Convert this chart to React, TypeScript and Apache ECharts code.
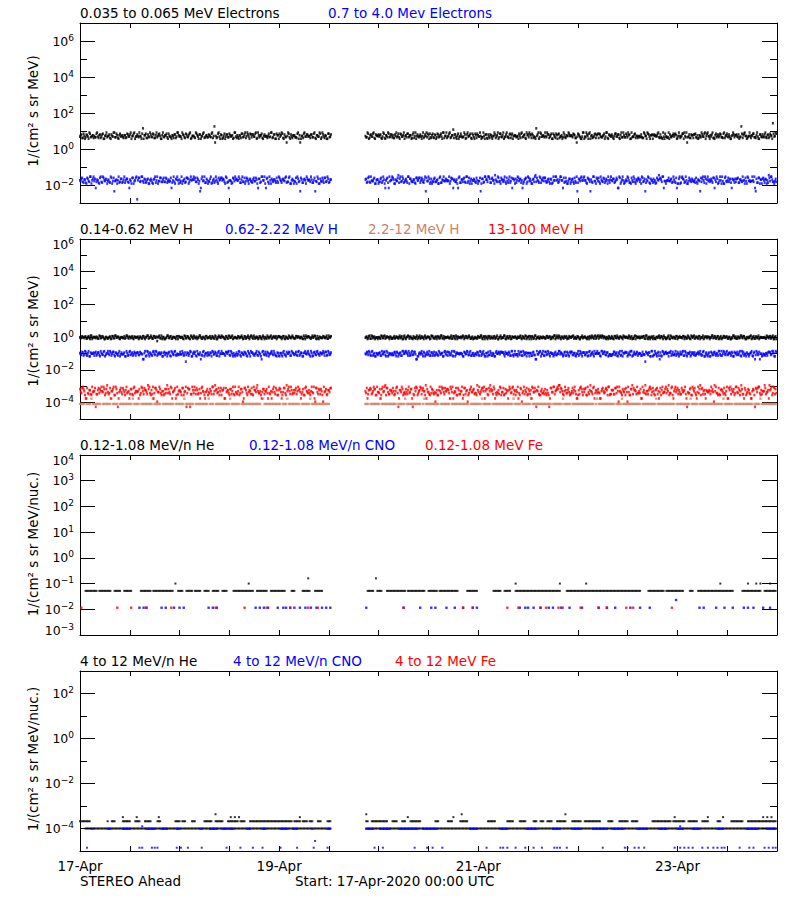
import React, { useEffect, useRef } from 'react';
import * as echarts from 'echarts';

// ---------------- style constants ----------------
const FONT = 'DejaVu Sans';
const BLACK = '#000000';
const BLUE = '#0000ff';
const RED = '#ff0000';
const BROWN = '#cc8468';

// ---------------- time axis ----------------
const SPAN_HOURS = 168; // 17-Apr-2020 00:00 .. 24-Apr-2020 00:00
const X_TICK_STEP_H = 12;
const X_LABEL_STEP_H = 48;
const X_TICK_LABELS = ['17-Apr', '19-Apr', '21-Apr', '23-Apr'];
const GAP_START_H = 60.67; // data gap on 19-Apr
const GAP_END_H = 68.8;
const SLOT_H = 1 / 3; // 20-minute cadence for the sparse heavy-ion lists

const SPACECRAFT = 'STEREO Ahead';
const START_TEXT = 'Start: 17-Apr-2020 00:00 UTC';

// ---------------- panel 1 : electrons ----------------
// each char is one reading; digits index the level table, letters are outliers, '.' = no reading
// two interleaved reading streams (A and B) per series
const E_LO_LEVELS = [3.2, 3.7, 4.1, 4.5, 4.9, 5.3, 5.8, 6.4, 7.1, 8.2];
const E_LO_EXTRA: Record<string, number> = { a: 2.3, b: 14, c: 18, d: 12, e: 27 };
const E_LO_PRE_A =
  '4725361846 5392748163 5274936185 3628471594 7351b68249 4826375193 6384157296 5173846925 3961748253 7482c53916 2847365194 6158372948 3749265817 5284937161 4927358146 6381a52947 5273916483 725184';
const E_LO_POST_A =
  '5382749165 4719263847 6253817495 3846295173 7194536828 2637481959 4826d73514 5391746283 8264539171 4735926184 6149372856 3582947163 7264159384 5937261848 1846372595 6372a85149 4958163727 2735849164 5184726393 8361947254 3729518467 6548372914 2973648155 4815937262 7362594818 5149263757 3826471593 6473c28514 9258364173 4736285e49';
const E_LO_PRE_B =
  '6281749352 3846271595 7159382646 2637495814 5948162737 3729581646 8153627494 4962738155 2847159363 6395a28471 5173846292 3628495717 7481936254 4539271868 6814a93725 3296158474 5738264919 461837';
const E_LO_POST_B =
  '3916482757 6248159373 2795384616 8361729545 4527981363 7183649252 5936271848 3472958161 6849135727 2615749383 9374286155 4158362979 6823b71946 3597481626 7241936585 5862473191 3719524868 8436192757 2584719363 6971348525 4328597161 7659231484 3145876292 5893a42767 8216374959 4672185383 2958341676 7314869525 5683291747 3927461858';

const E_HI_LEVELS = [0.0105, 0.012, 0.0135, 0.015, 0.0165, 0.018, 0.02, 0.022, 0.025, 0.029];
const E_HI_EXTRA: Record<string, number> = { a: 0.0068, b: 0.0045, c: 0.0016, d: 0.035 };
const E_HI_PRE_A =
  '5736284917 4a62839571 6284b51937 3957261848 c839472615 5172948363 8264a53791 2947381656 6381b74925 4715293868 7392a51846 5926384717 3648172959 a815736249 6274938155 4893b62717 5362849173 583926';
const E_HI_POST_A =
  '6283947156 3729158a46 8164d73925 4917362858 2836b49174 7351826946 5947a63182 6382941757 3814b72963 9275163848 5638294a71 2947516838 7163d84925 4826371959 6395a28147 3714926858 5286b39417 8163745929 4738a91652 6952837148 3184b69275 7526d83941 5847362a19 2963518474 6815b39276 4372869155 9184537a62 3726495818 5493a72861 8265d49317';
const E_HI_PRE_B =
  '4826173959 7351928464 3918465272 6273a48159 5849263717 2695148383 7438291656 4152873969 8364a95271 3927461585 6183542797 5729318464 2846a73951 7391564828 4658239171 3174826595 6925b37148 284736';
const E_HI_POST_B =
  '7392548161 3846a72959 6158294737 2974361858 5629847313 8361925474 4187536a92 6739284155 2548173969 7285d49316 3914628757 5862a37194 4179352868 8437162595 2695834171 6382b74959 5173629484 3948271565 7256a83914 4821593676 6937248152 3185769a44 5462938171 8729146353 2364875919 6548a37291 4193862757 7826351494 3459b28167 5712896343';

// ---------------- panel 2 : protons ----------------
const H1_LEVELS = [0.72, 0.77, 0.82, 0.87, 0.92, 0.97, 1.02, 1.08, 1.15, 1.24];
const H1_EXTRA: Record<string, number> = { a: 0.58 };
const H1_PRE_A =
  '5463728194 6352847163 4728395616 3849265374 5173846925 6284a73951 3947265188 5629384172 7415926383 4836271959 6283947154 3759182646 8264537191 4937265848 5182739466 2847361595 7364928153 846295';
const H1_POST_A =
  '4739286151 6283947572 3846295173 5927384616 2847365198 4715293864 7362849155 3918476272 6485937161 5273849162 4926381757 3749162858 8163947253 5284716394 6937485126 4826371595 7361594828 2948736153 5183627497 6492837165 3758291646 8264937151 4917362858 5386294177 2748159363 6159473828 3847261595 7264938153 4938275164 5627384918';
const H1_PRE_B =
  '3857264916 5729384162 6183947255 4295738166 7362815949 2847593161 5938264717 4618372959 3749526184 6283915747 5172849363 8365274919 4927183656 2659384177 6481527393 3874629158 5296813744 739258';
const H1_POST_B =
  '6182937455 3948275162 5274638191 7863152949 4519376283 2687493155 5392816747 6748392514 3265917848 8437261595 4918372656 2573849161 6829153747 5384726919 3716258485 7942851636 4168372959 5793614828 2849375164 6375129847 4582936171 3167485952 7294638155 5816372949 3628451777 6493827151 4857261393 2739584166 8162739454 4395827161';

const H2_LEVELS = [0.06, 0.068, 0.075, 0.082, 0.09, 0.098, 0.106, 0.115, 0.126, 0.14];
const H2_EXTRA: Record<string, number> = { a: 0.045, b: 0.032 };
const H2_PRE_A =
  '6374829155 2847163936 5928374617 4716395282 7385a61947 3859264718 6172948353 8463b72915 5294738162 3718462959 6485927134 2937485161 7526384a93 4815936272 6374158296 3829461757 5162839474 928374';
const H2_POST_A =
  '5837294163 6294817353 3748162958 7263948a15 4916385272 8352746193 2739184656 6184937252 5372849161 3926175848 7485362919 4158293766 6273a94815 2839475163 5946172838 8362594717 3718264959 6295837142 4837152966 7153928484 5284b63719 3946271858 6172839454 4829365177 7364928153 5183746292 2947365818 6839152474 4726a93851 5362874919';
const H2_PRE_B =
  '4829361757 6273948159 3758162944 5192837466 7364a92815 2938475163 6581739244 4927365818 8153a29467 3694827155 5278394617 4816372959 7359261848 2647593161 6193857274 5382716949 3917485266 682937';
const H2_POST_B =
  '4793826155 7258391646 3816472959 5927384a17 6481539274 2739461858 8362917545 4175839262 5839274168 3624195787 7156829343 4938275161 6283a47959 2847165383 5974382616 8361529477 3729481565 6195837242 4852793168 7389154626 5243867191 3618a29475 6794352818 4927168353 2586439171 7163825949 5839472616 3472985151 6918374a52 4257839618';

const H3_LEVELS: number[] = [];
const H3_EXTRA: Record<string, number> = { '1': 8.3e-5, '2': 1.75e-4 };
const H3_PRE =
  '1111.11121 11111.1111 1121111.11 1111111211 11.1111111 1211111.11 111111.111 1112111111 .111111111 2111.11111 1111121111 11.1111111 1111111.21 1111111111 1.11121111 1111.11111 1211111111 11111.';
const H3_POST =
  '111.111111 1211111111 111.111112 1111111111 1.12111111 1111.11111 1121111111 111111.111 1111121111 11.1111111 1111111121 1111.11111 1211111111 111111.111 1111211111 .111111111 1111111.12 1111111111 11.1111211 1111111111 1.11111111 1121111111 111111.111 1111111211 111.111111 1111111111 12111111.1 1111111111 111.111121 1111111111';

const H4_LEVELS = [2.5e-4, 2.9e-4, 3.3e-4, 3.8e-4, 4.4e-4, 5.0e-4, 5.8e-4, 6.7e-4, 7.8e-4, 9.2e-4];
const H4_EXTRA: Record<string, number> = { a: 1.8e-4, b: 1.15e-4, c: 5.5e-5, d: 1.15e-3 };
const H4_PRE_A =
  '7395a82614 5c2879473d 2857193a64 8463527195 4a19586273 6938b47152 3d72846a95 5184937c26 9263a85147 4729563851 6a85372914 2937b86145 8164d35a72 5392a74816 7a48159263 3856427194 6193a84725 b47268';
const H4_POST_A =
  '5826739714 3a74918265 8159c64732 4637a28915 9285d74136 2b61937485 7394a58162 5a82616947 3169485a72 8d52734691 4176a93825 6938b52417 2a84569153 5713c84926 9d47256381 3865a12947 7192d48a63 4a58376912 6283594157 8b41726593 3a96d52874 5172a86349 7d38159624 2659a43817 8143d726a5 4597b53126 6235a89741 9481d2a637 3a56c78912 5d24a69387';
const H4_PRE_B =
  '4871a36295 8263559174 3a5917c482 6194a72835 5738264d91 2a86493517 7349a58126 4815c87293 6827394a51 3592d74186 8a46175293 5174a83962 2968531475 7a35492618 4183d75926 6297a41853 3549b82671 951648';
const H4_POST_B =
  '3a68257194 7195d84263 5283a69147 2947c15836 8651a42973 4316598257 6a79341825 9185b37462 3d42689571 5769a13284 8235674961 4a17396825 6948c52173 2361a84957 7d85193642 5392a68714 8146529357 3a75481926 6289b53741 4917d86235 7a43256918 2685419473 5139a74862 8462c37195 3a97185264 6254d93817 4819a62573 9365728146 2a71849365 5846d71923';

// ---------------- panel 3 : 0.12-1.08 MeV/n heavy ions (20-min slot numbers) ----------------
const P3_HE_LOW_VALUE = 0.052;
const P3_HE_LOW_SLOTS: (number | [number, number])[] = [
  [4, 12], [14, 22], [25, 29], [32, 37], [44, 51], [53, 63], [64, 67], [71, 74], [77, 81], [83, 87],
  [90, 93], [96, 100], [103, 106], [111, 125], [128, 135], [138, 141], [142, 148], [153, 155], [161, 166],
  [170, 175], [208, 212], [215, 218], [222, 235], [237, 249], [252, 258], [260, 273], [280, 287], [299, 304],
  [307, 311], [315, 347], [352, 405], [411, 422], [424, 436], [441, 443], [447, 472], [479, 492], [495, 503],
];
const P3_HE_MID_VALUE = 0.1;
const P3_HE_MID_SLOTS = [69, 122, 315, 347, 366, 463, 483, 489, 492, 499];
const P3_HE_HIGH_VALUE = 0.16;
const P3_HE_HIGH_SLOTS = [165, 214];

const P3_CNO_LOW_VALUE = 0.0115;
const P3_CNO_LOW_SLOTS = [
  43, 46, 48, 59, 62, 68, 72, 75, 93, 96, 99, 127, 130, 133, 136, 143, 147, 149, 152, 155, 159, 163, 167, 171,
  175, 178, 181, 207, 234, 246, 254, 257, 265, 271, 277, 284, 287, 318, 322, 324, 328, 333, 339, 342, 348, 354,
  363, 375, 381, 387, 398, 405, 412, 448, 451, 460, 466, 472, 480, 483, 487, 494, 499,
];
const P3_CNO_MID_VALUE = 0.023;
const P3_CNO_MID_SLOTS = [431];

const P3_FE_LOW_VALUE = 0.0115;
const P3_FE_LOW_SLOTS = [
  1, 27, 37, 48, 66, 98, 119, 135, 152, 165, 172, 234, 277, 284, 309, 317, 333, 337, 346, 349, 362, 375, 381,
  395, 400, 428,
];

// ---------------- panel 4 : 4-12 MeV/n heavy ions ----------------
const P4_HE_BASE_VALUE = 1.0e-4;
const P4_HE_BASE_SLOTS: (number | [number, number])[] = [[4, 181], [207, 503]];
const P4_HE_UP_VALUE = 2.1e-4;
const P4_HE_UP_SLOTS: (number | [number, number])[] = [
  [0, 4], [5, 7], 20, [23, 25], [31, 34], [35, 36], [40, 43], [47, 51], [56, 58], [69, 72], [74, 76], [81, 83],
  [90, 95], [98, 103], [107, 114], [116, 119], [123, 128], [129, 135], [136, 142], [143, 153], [155, 159],
  [161, 164], [166, 168], [172, 174], [179, 181], [207, 208], [211, 222], [226, 229], [233, 235], [239, 246],
  [257, 259], [266, 269], [275, 280], [295, 300], [309, 313], [318, 322], [328, 330], [333, 335], [338, 341],
  [345, 351], [356, 362], [365, 376], [382, 385], [390, 396], [399, 403], [414, 427], [429, 437], [440, 446],
  [450, 454], [461, 463], [471, 479], [483, 503],
];
const P4_HE_UP2_VALUE = 3.2e-4;
const P4_HE_UP2_SLOTS = [31, 41, 57, 109, 112, 115, 159, 237, 270, 430, 454, 465, 494, 497, 500];
const P4_HE_UP3_VALUE = 4.3e-4;
const P4_HE_UP3_SLOTS = [98, 207, 276, 351];

const P4_CNO_BASE_VALUE = 0.97e-4;
const P4_CNO_BASE_SLOTS: (number | [number, number])[] = [
  9, [20, 22], [31, 36], [48, 54], [59, 63], [70, 72], [87, 88], [94, 99], [103, 106], [108, 111], [121, 123],
  [132, 134], [145, 150], [154, 157], 168, [179, 181], [207, 212], [217, 224], [231, 244], [248, 258],
  [282, 287], [304, 309], [323, 330], [342, 347], [356, 362], [371, 381], [385, 393], [403, 410], [419, 424],
  [432, 436], [443, 448], [461, 465], [482, 490], [497, 503],
];
const P4_CNO_UP_VALUE = 1.25e-4;
const P4_CNO_UP_SLOTS = [45, 434];
const P4_CNO_MID_VALUE = 2.8e-5;
const P4_CNO_MID_SLOTS = [170];
const P4_CNO_LOW_VALUE = 1.4e-5;
const P4_CNO_LOW_SLOTS = [
  5, 43, 45, 52, 54, 56, 70, 73, 78, 88, 106, 116, 125, 132, 145, 157, 169, 179, 213, 219, 242, 251, 255, 262,
  294, 304, 306, 309, 315, 322, 328, 334, 343, 345, 347, 352, 378, 394, 396, 401, 404, 408, 430, 434, 437, 440,
  443, 450, 454, 458, 461, 464, 466, 477, 484, 487, 495, 498, 501, 503,
];
const P4_FE_SLOTS: number[] = [];

// ---------------- texts ----------------
const P1_LEGEND = ['0.035 to 0.065 MeV Electrons', '0.7 to 4.0 Mev Electrons'];
const P2_LEGEND = ['0.14-0.62 MeV H', '0.62-2.22 MeV H', '2.2-12 MeV H', '13-100 MeV H'];
const P3_LEGEND = ['0.12-1.08 MeV/n He', '0.12-1.08 MeV/n CNO', '0.12-1.08 MeV Fe'];
const P4_LEGEND = ['4 to 12 MeV/n He', '4 to 12 MeV/n CNO', '4 to 12 MeV Fe'];
const TITLE_A = '1/(cm\u00b2 s sr MeV)';
const TITLE_B = '1/(cm\u00b2 s sr MeV/nuc.)';

// ---------------- helpers ----------------
type Pt = [number, number];

function decodeStream(out: Pt[], s: string, t0: number, t1: number, shift: number, levels: number[], extra: Record<string, number>) {
  const chars = s.replace(/\s+/g, '');
  const step = (t1 - t0) / chars.length;
  for (let i = 0; i < chars.length; i++) {
    const c = chars[i];
    if (c === '.') continue;
    const v = extra[c] !== undefined ? extra[c] : levels[Number(c)];
    if (v === undefined || isNaN(v)) continue;
    out.push([t0 + (i + shift) * step, v]);
  }
}

function decodeDense(streams: [string, string][], levels: number[], extra: Record<string, number>): Pt[] {
  const out: Pt[] = [];
  streams.forEach(([pre, post], k) => {
    const shift = k / streams.length;
    decodeStream(out, pre, 0, GAP_START_H, shift, levels, extra);
    decodeStream(out, post, GAP_END_H, SPAN_HOURS, shift, levels, extra);
  });
  return out;
}

function fromSlots(slots: (number | [number, number])[], value: number): Pt[] {
  const out: Pt[] = [];
  slots.forEach((s) => {
    if (Array.isArray(s)) {
      for (let k = s[0]; k <= s[1]; k++) out.push([k * SLOT_H, value]);
    } else out.push([s * SLOT_H, value]);
  });
  return out;
}

// layout
const GRID_LEFT = 80;
const GRID_WIDTH = 697;
const GRID_HEIGHT = 180;
const GRID_TOPS = [23, 239, 455, 671];
const TEXT_FONT_SIZE = 13.5;

const PANEL_AXES = [
  { expMin: -3, expMax: 7, major: [-2, 0, 2, 4, 6], minor: [-1, 1, 3, 5], labels: [-2, 0, 2, 4, 6] },
  { expMin: -5, expMax: 6, major: [-4, -2, 0, 2, 4], minor: [-3, -1, 1, 3, 5], labels: [-4, -2, 0, 2, 4, 6] },
  { expMin: -3, expMax: 4, major: [-2, -1, 0, 1, 2, 3], minor: [] as number[], labels: [-3, -2, -1, 0, 1, 2, 3, 4] },
  { expMin: -5, expMax: 3, major: [-4, -2, 0, 2], minor: [-3, -1, 1], labels: [-4, -2, 0, 2] },
];

function buildOption(): any {
  const grids: any[] = [];
  const xAxes: any[] = [];
  const yAxes: any[] = [];
  const rich = {
    b: { fontSize: 12.5, fontFamily: FONT, color: BLACK, lineHeight: 16 },
    e: { fontSize: 9, fontFamily: FONT, color: BLACK, lineHeight: 8, verticalAlign: 'top' },
    sp: { fontSize: 8, lineHeight: 10 },
  };
  PANEL_AXES.forEach((p, g) => {
    grids.push({ left: GRID_LEFT, top: GRID_TOPS[g], width: GRID_WIDTH, height: GRID_HEIGHT });
    const isLast = g === PANEL_AXES.length - 1;
    const xBase = {
      type: 'value',
      gridIndex: g,
      min: 0,
      max: SPAN_HOURS,
      interval: X_TICK_STEP_H,
      splitLine: { show: false },
      axisLine: { show: true, onZero: false, lineStyle: { color: BLACK, width: 1 } },
      axisTick: { show: true, inside: true, length: 5, lineStyle: { color: BLACK, width: 1 } },
    };
    xAxes.push({
      ...xBase,
      position: 'bottom',
      axisLabel: isLast
        ? {
            show: true,
            margin: 8,
            color: BLACK,
            fontFamily: FONT,
            fontSize: TEXT_FONT_SIZE,
            formatter: (v: number) =>
              Math.abs(v % X_LABEL_STEP_H) < 1e-6 && v < SPAN_HOURS ? X_TICK_LABELS[Math.round(v / X_LABEL_STEP_H)] : '',
          }
        : { show: false },
    });
    xAxes.push({ ...xBase, position: 'top', axisLabel: { show: false } });

    // data axis (log)
    yAxes.push({
      type: 'log',
      logBase: 10,
      gridIndex: g,
      min: Math.pow(10, p.expMin),
      max: Math.pow(10, p.expMax),
      show: false,
    });
    const fmt = (v: number) => {
      const n = Math.round(v);
      const ex = n < 0 ? '\u2212' + -n : String(n);
      const body = '{b|10}{e|' + ex + '}';
      if (n === p.expMax) return '{sp| }\n' + body;
      if (n === p.expMin) return body + '\n{sp| }';
      return body;
    };
    const decoBase = {
      type: 'value',
      gridIndex: g,
      min: p.expMin,
      max: p.expMax,
      splitLine: { show: false },
    };
    yAxes.push({
      ...decoBase,
      position: 'left',
      axisLine: { show: true, onZero: false, lineStyle: { color: BLACK, width: 1 } },
      axisTick: { show: true, inside: true, length: 15, customValues: p.major, lineStyle: { color: BLACK } },
      axisLabel: { show: true, margin: 6, customValues: p.labels, formatter: fmt, rich, color: BLACK },
    });
    yAxes.push({
      ...decoBase,
      position: 'left',
      axisLine: { show: false },
      axisTick: { show: p.minor.length > 0, inside: true, length: 7, customValues: p.minor, lineStyle: { color: BLACK } },
      axisLabel: { show: false },
    });
    yAxes.push({
      ...decoBase,
      position: 'right',
      axisLine: { show: true, onZero: false, lineStyle: { color: BLACK, width: 1 } },
      axisTick: { show: true, inside: true, length: 15, customValues: p.major, lineStyle: { color: BLACK } },
      axisLabel: { show: false },
    });
    yAxes.push({
      ...decoBase,
      position: 'right',
      axisLine: { show: false },
      axisTick: { show: p.minor.length > 0, inside: true, length: 7, customValues: p.minor, lineStyle: { color: BLACK } },
      axisLabel: { show: false },
    });
  });

  const mk = (g: number, name: string, data: Pt[], color: string, size: number | number[] = 2) => ({
    type: 'scatter',
    name,
    xAxisIndex: g * 2,
    yAxisIndex: g * 5,
    data,
    symbol: 'rect',
    symbolSize: size,
    itemStyle: { color },
    silent: true,
    emphasis: { disabled: true },
  });

  const DENSE = [2, 2.6];
  const DENSE_THIN = [2.4, 2.4];

  const series = [
    mk(0, P1_LEGEND[0], decodeDense([[E_LO_PRE_A, E_LO_POST_A], [E_LO_PRE_B, E_LO_POST_B]], E_LO_LEVELS, E_LO_EXTRA), BLACK, DENSE),
    mk(0, P1_LEGEND[1], decodeDense([[E_HI_PRE_A, E_HI_POST_A], [E_HI_PRE_B, E_HI_POST_B]], E_HI_LEVELS, E_HI_EXTRA), BLUE, DENSE),

    mk(1, P2_LEGEND[0], decodeDense([[H1_PRE_A, H1_POST_A], [H1_PRE_B, H1_POST_B]], H1_LEVELS, H1_EXTRA), BLACK, DENSE),
    mk(1, P2_LEGEND[1], decodeDense([[H2_PRE_A, H2_POST_A], [H2_PRE_B, H2_POST_B]], H2_LEVELS, H2_EXTRA), BLUE, DENSE),
    mk(1, P2_LEGEND[2], decodeDense([[H3_PRE, H3_POST]], H3_LEVELS, H3_EXTRA), BROWN, DENSE_THIN),
    mk(1, P2_LEGEND[3], decodeDense([[H4_PRE_A, H4_POST_A], [H4_PRE_B, H4_POST_B]], H4_LEVELS, H4_EXTRA), RED, DENSE),

    mk(2, P3_LEGEND[0], [
      ...fromSlots(P3_HE_LOW_SLOTS, P3_HE_LOW_VALUE),
      ...fromSlots(P3_HE_MID_SLOTS, P3_HE_MID_VALUE),
      ...fromSlots(P3_HE_HIGH_SLOTS, P3_HE_HIGH_VALUE),
    ], BLACK),
    mk(2, P3_LEGEND[1], [
      ...fromSlots(P3_CNO_LOW_SLOTS, P3_CNO_LOW_VALUE),
      ...fromSlots(P3_CNO_MID_SLOTS, P3_CNO_MID_VALUE),
    ], BLUE, 2.4),
    mk(2, P3_LEGEND[2], fromSlots(P3_FE_LOW_SLOTS, P3_FE_LOW_VALUE), RED, 2.4),

    mk(3, P4_LEGEND[0], [
      ...fromSlots(P4_HE_BASE_SLOTS, P4_HE_BASE_VALUE),
      ...fromSlots(P4_HE_UP_SLOTS, P4_HE_UP_VALUE),
      ...fromSlots(P4_HE_UP2_SLOTS, P4_HE_UP2_VALUE),
      ...fromSlots(P4_HE_UP3_SLOTS, P4_HE_UP3_VALUE),
    ], BLACK),
    mk(3, P4_LEGEND[1], [
      ...fromSlots(P4_CNO_BASE_SLOTS, P4_CNO_BASE_VALUE),
      ...fromSlots(P4_CNO_UP_SLOTS, P4_CNO_UP_VALUE),
      ...fromSlots(P4_CNO_MID_SLOTS, P4_CNO_MID_VALUE),
      ...fromSlots(P4_CNO_LOW_SLOTS, P4_CNO_LOW_VALUE),
    ], BLUE),
    mk(3, P4_LEGEND[2], fromSlots(P4_FE_SLOTS, 1e-4), RED),
  ];

  const txt = (text: string, x: number, y: number, color: string, rot = 0, align = 'left') => ({
    type: 'text',
    x,
    y,
    rotation: rot,
    silent: true,
    style: {
      text,
      fill: color,
      font: TEXT_FONT_SIZE + 'px "' + FONT + '"',
      textAlign: align,
      textVerticalAlign: 'middle',
    },
  });

  const R = Math.PI / 2;
  const graphic = [
    txt(P1_LEGEND[0], 80, 12.6, BLACK),
    txt(P1_LEGEND[1], 328, 12.6, BLUE),
    txt(P2_LEGEND[0], 80, 228.6, BLACK),
    txt(P2_LEGEND[1], 225, 228.6, BLUE),
    txt(P2_LEGEND[2], 368, 228.6, BROWN),
    txt(P2_LEGEND[3], 488, 228.6, RED),
    txt(P3_LEGEND[0], 80, 444.6, BLACK),
    txt(P3_LEGEND[1], 249, 444.6, BLUE),
    txt(P3_LEGEND[2], 425, 444.6, RED),
    txt(P4_LEGEND[0], 80, 661, BLACK),
    txt(P4_LEGEND[1], 233, 661, BLUE),
    txt(P4_LEGEND[2], 395, 661, RED),
    txt(TITLE_A, 33, 111, BLACK, R, 'center'),
    txt(TITLE_A, 33, 331, BLACK, R, 'center'),
    txt(TITLE_B, 33, 544, BLACK, R, 'center'),
    txt(TITLE_B, 33, 759, BLACK, R, 'center'),
    txt(SPACECRAFT, 80, 881, BLACK),
    txt(START_TEXT, 295, 881, BLACK),
  ];

  return {
    animation: false,
    backgroundColor: '#ffffff',
    textStyle: { fontFamily: FONT },
    grid: grids,
    xAxis: xAxes,
    yAxis: yAxes,
    series,
    graphic,
  };
}

export default function App() {
  const ref = useRef<HTMLDivElement | null>(null);
  useEffect(() => {
    if (!ref.current) return;
    const chart = echarts.init(ref.current, undefined, { renderer: 'svg' });
    chart.setOption(buildOption());
    return () => chart.dispose();
  }, []);
  return (
    <div
      ref={ref}
      style={{ position: 'absolute', left: 0, top: 0, width: 800, height: 900, background: '#ffffff' }}
    />
  );
}
